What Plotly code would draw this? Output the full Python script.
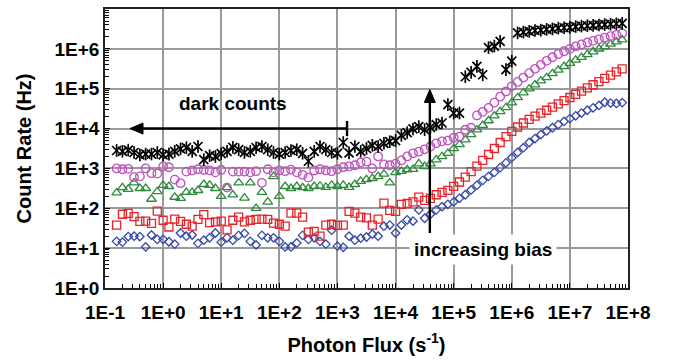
import plotly.graph_objects as go

# log10 of photon flux (s^-1), shared by all series
flux_log10 = [
    -0.8, -0.7, -0.6, -0.5, -0.4, -0.3, -0.2, -0.1, 0.0, 0.1,
    0.2, 0.3, 0.4, 0.5, 0.6, 0.7, 0.8, 0.9, 1.0, 1.1,
    1.2, 1.3, 1.4, 1.5, 1.6, 1.7, 1.8, 1.9, 2.0, 2.1,
    2.2, 2.3, 2.4, 2.5, 2.6, 2.7, 2.8, 2.9, 3.0, 3.1,
    3.2, 3.3, 3.4, 3.5, 3.6, 3.7, 3.8, 3.9, 4.0, 4.1,
    4.2, 4.3, 4.4, 4.5, 4.6, 4.7, 4.8, 4.9, 5.0, 5.1,
    5.2, 5.3, 5.4, 5.5, 5.6, 5.7, 5.8, 5.9, 6.0, 6.1,
    6.2, 6.3, 6.4, 6.5, 6.6, 6.7, 6.8, 6.9, 7.0, 7.1,
    7.2, 7.3, 7.4, 7.5, 7.6, 7.7, 7.8, 7.9,
]

# log10 of count rate (Hz) for each bias setting
black_log10 = [
    3.45, 3.43, 3.46, 3.40, 3.34, 3.36, 3.36, 3.40, 3.34, 3.36,
    3.43, 3.49, 3.52, 3.43, 3.55, 3.22, 3.32, 3.30, 3.37, 3.43,
    3.53, 3.47, 3.40, 3.43, 3.52, 3.55, 3.47, 3.40, 3.36, 3.40,
    3.45, 3.47, 3.38, 3.18, 3.43, 3.55, 3.47, 3.40, 3.38, 3.65,
    3.39, 3.55, 3.43, 3.50, 3.58, 3.55, 3.63, 3.67, 3.70, 3.83,
    3.90, 3.99, 4.05, 3.97, 4.03, 4.10, 4.14, 4.60, 4.39, 4.39,
    5.30, 5.41, 5.56, 5.35, 6.03, 6.07, 6.19, 5.48, 5.69, 6.40,
    6.42, 6.44, 6.46, 6.47, 6.49, 6.50, 6.52, 6.53, 6.54, 6.56,
    6.57, 6.58, 6.59, 6.60, 6.61, 6.62, 6.63, 6.64,
]
magenta_log10 = [
    3.00, 2.98, 2.99, 2.78, 2.80, 3.00, 2.88, 2.87, 3.05, 3.03,
    2.72, 2.63, 2.92, 2.95, 2.98, 2.96, 2.95, 2.90, 2.96, 2.52,
    2.92, 2.92, 2.92, 2.90, 2.93, 2.64, 2.98, 2.90, 2.95, 2.93,
    2.97, 2.90, 2.84, 2.77, 2.95, 2.98, 2.95, 2.93, 2.98, 3.03,
    3.05, 3.08, 3.15, 3.17, 3.00, 3.30, 3.10, 3.08, 3.12, 3.20,
    3.30, 3.38, 3.42, 3.48, 3.55, 3.63, 3.68, 3.70, 3.77, 3.80,
    3.97, 4.02, 4.33, 4.42, 4.52, 4.65, 4.80, 4.93, 5.06, 5.17,
    5.28, 5.39, 5.50, 5.60, 5.70, 5.79, 5.87, 5.94, 6.00, 6.06,
    6.11, 6.16, 6.20, 6.24, 6.28, 6.32, 6.35, 6.39,
]
green_log10 = [
    2.39, 2.52, 2.48, 2.64, 2.50, 2.50, 2.23, 2.42, 2.58, 2.55,
    2.28, 2.25, 2.40, 2.40, 2.45, 2.60, 2.58, 2.50, 2.30, 2.52,
    2.34, 2.64, 2.26, 2.64, 2.00, 2.40, 2.16, 2.80, 2.30, 2.55,
    2.50, 2.55, 2.52, 2.50, 2.55, 2.56, 2.53, 2.58, 2.55, 2.58,
    2.53, 2.60, 2.68, 2.72, 2.75, 2.80, 2.86, 2.64, 2.90, 2.93,
    2.97, 2.98, 3.12, 3.05, 3.12, 3.22, 3.30, 3.38, 3.50, 3.60,
    3.72, 3.85, 3.97, 4.08, 4.20, 4.32, 4.43, 4.53, 4.65, 4.78,
    4.90, 5.00, 5.10, 5.20, 5.28, 5.38, 5.47, 5.56, 5.64, 5.72,
    5.79, 5.86, 5.93, 6.00, 6.06, 6.12, 6.18, 6.23,
]
red_log10 = [
    1.58, 1.85, 1.87, 1.79, 1.67, 1.68, 1.62, 1.93, 1.70, 1.53,
    1.73, 1.67, 1.60, 1.55, 1.72, 1.84, 1.64, 1.66, 1.68, 1.46,
    1.70, 1.78, 1.66, 1.70, 1.72, 1.73, 1.72, 1.63, 1.60, 1.55,
    1.88, 1.88, 1.78, 1.40, 1.42, 1.30, 1.58, 1.60, 1.57, 1.58,
    1.92, 1.88, 1.78, 1.76, 1.58, 1.73, 2.13, 1.95, 1.92, 2.10,
    2.12, 2.16, 2.28, 2.20, 2.25, 2.34, 2.40, 2.45, 2.55, 2.66,
    2.78, 2.92, 3.06, 3.20, 3.35, 3.50, 3.65, 3.80, 3.93, 4.04,
    4.14, 4.23, 4.31, 4.39, 4.46, 4.54, 4.62, 4.70, 4.78, 4.86,
    4.94, 5.02, 5.10, 5.18, 5.26, 5.34, 5.42, 5.50,
]
blue_log10 = [
    1.17, 1.15, 1.29, 1.30, 1.29, 1.03, 1.33, 1.22, 1.22, 1.16,
    1.10, 1.38, 1.30, 1.33, 1.12, 1.20, 1.26, 1.38, 1.15, 1.26,
    1.20, 1.32, 1.37, 1.17, 1.08, 1.32, 1.26, 1.26, 1.17, 1.03,
    1.03, 1.13, 1.32, 1.22, 1.26, 1.17, 1.10, 1.45, 1.05, 1.02,
    1.30, 1.20, 1.25, 1.28, 1.35, 1.30, 1.55, 1.58, 1.38, 1.58,
    1.71, 1.68, 1.96, 1.75, 1.85, 1.96, 2.04, 2.10, 2.16, 2.25,
    2.34, 2.46, 2.58, 2.70, 2.80, 2.90, 3.02, 3.14, 3.27, 3.40,
    3.52, 3.65, 3.75, 3.85, 3.94, 4.02, 4.10, 4.18, 4.25, 4.32,
    4.39, 4.46, 4.52, 4.58, 4.66, 4.64, 4.63, 4.65,
]

x_tick_exp = [-1, 0, 1, 2, 3, 4, 5, 6, 7, 8]
x_tick_text = ["1E-1", "1E+0", "1E+1", "1E+2", "1E+3", "1E+4", "1E+5", "1E+6", "1E+7", "1E+8"]
y_tick_exp = [0, 1, 2, 3, 4, 5, 6, 7]
y_tick_text = ["1E+0", "1E+1", "1E+2", "1E+3", "1E+4", "1E+5", "1E+6", "1E+7"]

FONT = "Liberation Sans, Arial, sans-serif"

flux = [10 ** v for v in flux_log10]


def rate(lst):
    return [10 ** v for v in lst]


fig = go.Figure()

series = [
    (blue_log10, "diamond-open", "#3548A8", 6.5),
    (red_log10, "square-open", "#E8232A", 8),
    (green_log10, "triangle-up-open", "#2E8B3E", 8.5),
    (magenta_log10, "circle-open", "#C050C0", 8.5),
]
for vals, sym, col, sz in series:
    fig.add_trace(go.Scatter(
        x=flux, y=rate(vals), mode="markers",
        marker=dict(symbol=sym, size=sz, color=col, line=dict(color=col, width=1.3)),
        showlegend=False, hoverinfo="skip",
    ))
# black "star" markers: x with a vertical stroke
for sym in ["x-thin-open", "line-ns-open"]:
    fig.add_trace(go.Scatter(
        x=flux, y=rate(black_log10), mode="markers",
        marker=dict(symbol=sym, size=9, color="black", line=dict(color="black", width=1.7)),
        showlegend=False, hoverinfo="skip",
    ))

# annotation anchors (log10 units)
dark_tip_x, dark_tail_x, dark_y = -0.57, 3.165, 4.0
bias_x, bias_tip_y, bias_tail_y = 4.59, 4.98, 1.38

ARROW = dict(color="black", width=2.4)
# "dark counts" arrow: shaft, end bar and head
fig.add_shape(type="line", xref="x", yref="y",
              x0=10 ** (dark_tip_x + 0.15), x1=10 ** dark_tail_x,
              y0=10 ** dark_y, y1=10 ** dark_y, line=ARROW)
fig.add_shape(type="line", xref="x", yref="y",
              x0=10 ** dark_tail_x, x1=10 ** dark_tail_x,
              y0=10 ** (dark_y - 0.19), y1=10 ** (dark_y + 0.19), line=ARROW)
fig.add_shape(type="path", xref="x", yref="y",
              xsizemode="pixel", ysizemode="pixel",
              xanchor=10 ** dark_tip_x, yanchor=10 ** dark_y,
              path="M0,0 L13,-5.5 L13,5.5 Z",
              fillcolor="black", line=dict(color="black", width=1))
# "increasing bias" arrow: shaft and head
fig.add_shape(type="line", xref="x", yref="y",
              x0=10 ** bias_x, x1=10 ** bias_x,
              y0=10 ** bias_tail_y, y1=10 ** (bias_tip_y - 0.2), line=ARROW)
fig.add_shape(type="path", xref="x", yref="y",
              xsizemode="pixel", ysizemode="pixel",
              xanchor=10 ** bias_x, yanchor=10 ** bias_tip_y,
              path="M0,0 L-5.5,-13 L5.5,-13 Z",
              fillcolor="black", line=dict(color="black", width=1))

fig.add_annotation(x=1.2, y=4.63, xref="x", yref="y", text="<b>dark counts</b>",
                   showarrow=False, font=dict(family=FONT, size=19, color="black"))
fig.add_annotation(x=5.51, y=0.96, xref="x", yref="y", text="<b>increasing bias</b>",
                   showarrow=False, bgcolor="white", borderpad=4,
                   font=dict(family=FONT, size=19, color="black"))

axis_common = dict(
    type="log", showgrid=True, gridcolor="#9a9a9a", gridwidth=1.5,
    showline=True, linecolor="#222222", linewidth=1.8, mirror=True,
    ticks="inside", ticklen=5, tickcolor="black", tickwidth=1,
    tickfont=dict(family=FONT, size=19, color="black", weight="bold"),
    zeroline=False,
    minor=dict(ticks="inside", ticklen=4, tickcolor="black", tickwidth=1, showgrid=False, dtick="D1"),
)

fig.update_xaxes(
    **axis_common,
    range=[-1, 8],
    tickmode="array", tickvals=[10 ** e for e in x_tick_exp], ticktext=x_tick_text,
    ticklabelstandoff=6,
    title=dict(text="<b>Photon Flux (s<sup>-1</sup>)</b>",
               font=dict(family=FONT, size=20, color="black"), standoff=16),
)
fig.update_yaxes(
    **axis_common,
    range=[0, 7],
    tickmode="array", tickvals=[10 ** e for e in y_tick_exp], ticktext=y_tick_text,
    title=dict(text="<b>Count Rate (Hz)</b>",
               font=dict(family=FONT, size=20, color="black"), standoff=17),
)

fig.update_layout(
    width=674, height=361,
    margin=dict(l=105, r=46, t=9, b=73, autoexpand=False),
    paper_bgcolor="white", plot_bgcolor="white",
    showlegend=False,
)

fig.write_html("out.html")
